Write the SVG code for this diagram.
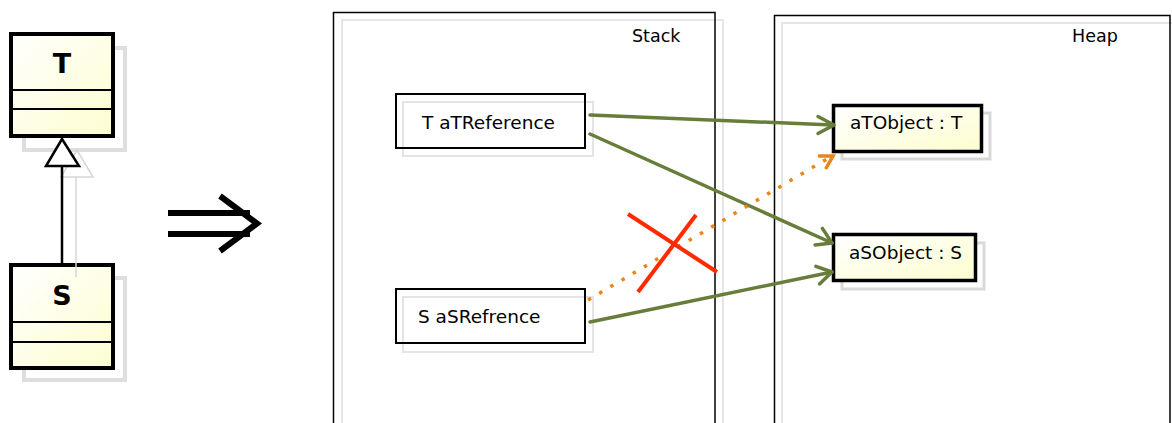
<svg xmlns="http://www.w3.org/2000/svg" width="1172" height="423" viewBox="0 0 1172 423">
<defs>
<linearGradient id="yel" x1="0" y1="0" x2="1" y2="1">
<stop offset="0" stop-color="#ffffff"/>
<stop offset="1" stop-color="#fdfdcf"/>
</linearGradient>
</defs>
<style>
text{font-family:"DejaVu Sans","Liberation Sans",sans-serif;fill:#000}
.lbl{font-size:18.5px}
.frame{fill:none;stroke:#000;stroke-width:1.5}
.ghost{fill:none;stroke:#e6e6e6;stroke-width:2}
.cls{fill:url(#yel);stroke:#000;stroke-width:4}
.clsShadow{fill:none;stroke:#dedede;stroke-width:4}
.obj{fill:url(#yel);stroke:#000;stroke-width:3.5}
.objShadow{fill:none;stroke:#d9d9d9;stroke-width:3}
.ref{fill:none;stroke:#000;stroke-width:2}
.refShadow{fill:none;stroke:#e4e4e4;stroke-width:2}
.green{fill:none;stroke:#677d3a;stroke-width:3.5;stroke-linecap:round;stroke-linejoin:round}
.orange{fill:none;stroke:#ec8418;stroke-width:3.5;stroke-dasharray:3.5 9.5}
.red{stroke:#ff2a00;stroke-width:4}
</style>

<g id="class-T">
<rect class="clsShadow" x="24" y="48" width="101" height="102"/>
<rect class="cls" x="11" y="34" width="102" height="102"/>
<line x1="11" y1="90" x2="113" y2="90" stroke="#000" stroke-width="2"/>
<line x1="11" y1="109" x2="113" y2="109" stroke="#000" stroke-width="2"/>
<text x="62" y="73" text-anchor="middle" font-size="27" font-weight="bold">T</text>
</g>

<g id="class-S">
<rect class="clsShadow" x="24" y="278" width="101" height="102"/>
<rect class="cls" x="11" y="265" width="102" height="103"/>
<line x1="11" y1="322" x2="113" y2="322" stroke="#000" stroke-width="2"/>
<line x1="11" y1="342" x2="113" y2="342" stroke="#000" stroke-width="2"/>
<text x="62" y="305" text-anchor="middle" font-size="27" font-weight="bold">S</text>
</g>

<g id="generalization">
<polygon points="77,150 61,177 93,177" fill="none" stroke="#d6d6d6" stroke-width="1.5"/>
<line x1="76" y1="177" x2="76" y2="277" stroke="#d6d6d6" stroke-width="1.5"/>
<line x1="62" y1="166" x2="62" y2="263" stroke="#000" stroke-width="2.5"/>
<polygon points="62,139 46,166 79,166" fill="#fff" stroke="#000" stroke-width="2.5" stroke-linejoin="miter"/>
</g>

<g id="implies">
<line x1="168" y1="213" x2="250" y2="213" stroke="#000" stroke-width="6"/>
<line x1="168" y1="234" x2="250" y2="234" stroke="#000" stroke-width="6"/>
<polyline points="220,196 257,223.5 220,251" fill="none" stroke="#000" stroke-width="6"/>
</g>

<g id="stack">
<rect class="ghost" x="342" y="20" width="381" height="420"/>
<rect class="frame" x="333.5" y="12.5" width="381.5" height="420"/>
<text x="632" y="42" style="font-size:17.5px">Stack</text>
</g>

<g id="heap">
<rect class="ghost" x="782" y="23" width="400" height="420"/>
<rect class="frame" x="774.5" y="15.5" width="395.5" height="420"/>
<text x="1072" y="42" style="font-size:17.5px">Heap</text>
</g>

<g id="aTReference">
<rect class="refShadow" x="403" y="102" width="190" height="54"/>
<rect class="ref" x="396" y="94" width="189" height="54"/>
<text class="lbl" x="422" y="129">T aTReference</text>
</g>

<g id="aSRefrence">
<rect class="refShadow" x="403" y="297" width="190" height="55"/>
<rect class="ref" x="396" y="289" width="189" height="54"/>
<text class="lbl" x="418" y="323">S aSRefrence</text>
</g>

<g id="aTObject">
<rect class="objShadow" x="842" y="113" width="148" height="46"/>
<rect class="obj" x="833.5" y="105.5" width="148" height="46"/>
<text class="lbl" x="850" y="129">aTObject : T</text>
</g>

<g id="aSObject">
<rect class="objShadow" x="842" y="243" width="142" height="46"/>
<rect class="obj" x="833.5" y="234.5" width="142" height="46"/>
<text class="lbl" x="849" y="259">aSObject : S</text>
</g>

<g id="connectors">
<line class="green" x1="590" y1="115" x2="833" y2="125"/>
<polyline class="green" points="818,116.5 834,125 818,133.5"/>
<line class="green" x1="590" y1="134" x2="832" y2="243"/>
<polyline class="green" points="822.4,228.4 832,243 815.1,244.9"/>
<line class="green" x1="590" y1="322" x2="832" y2="272"/>
<polyline class="green" points="815.9,266.3 832,272 819.5,283.9"/>
<line class="orange" x1="588" y1="300" x2="832" y2="156"/>
<polyline class="orange" points="818,156 833,156 825.6,169" style="stroke-dasharray:none;stroke-width:3.5"/>
<line class="red" x1="628" y1="214" x2="717" y2="272"/>
<line class="red" x1="696" y1="215" x2="638" y2="292"/>
</g>
</svg>
